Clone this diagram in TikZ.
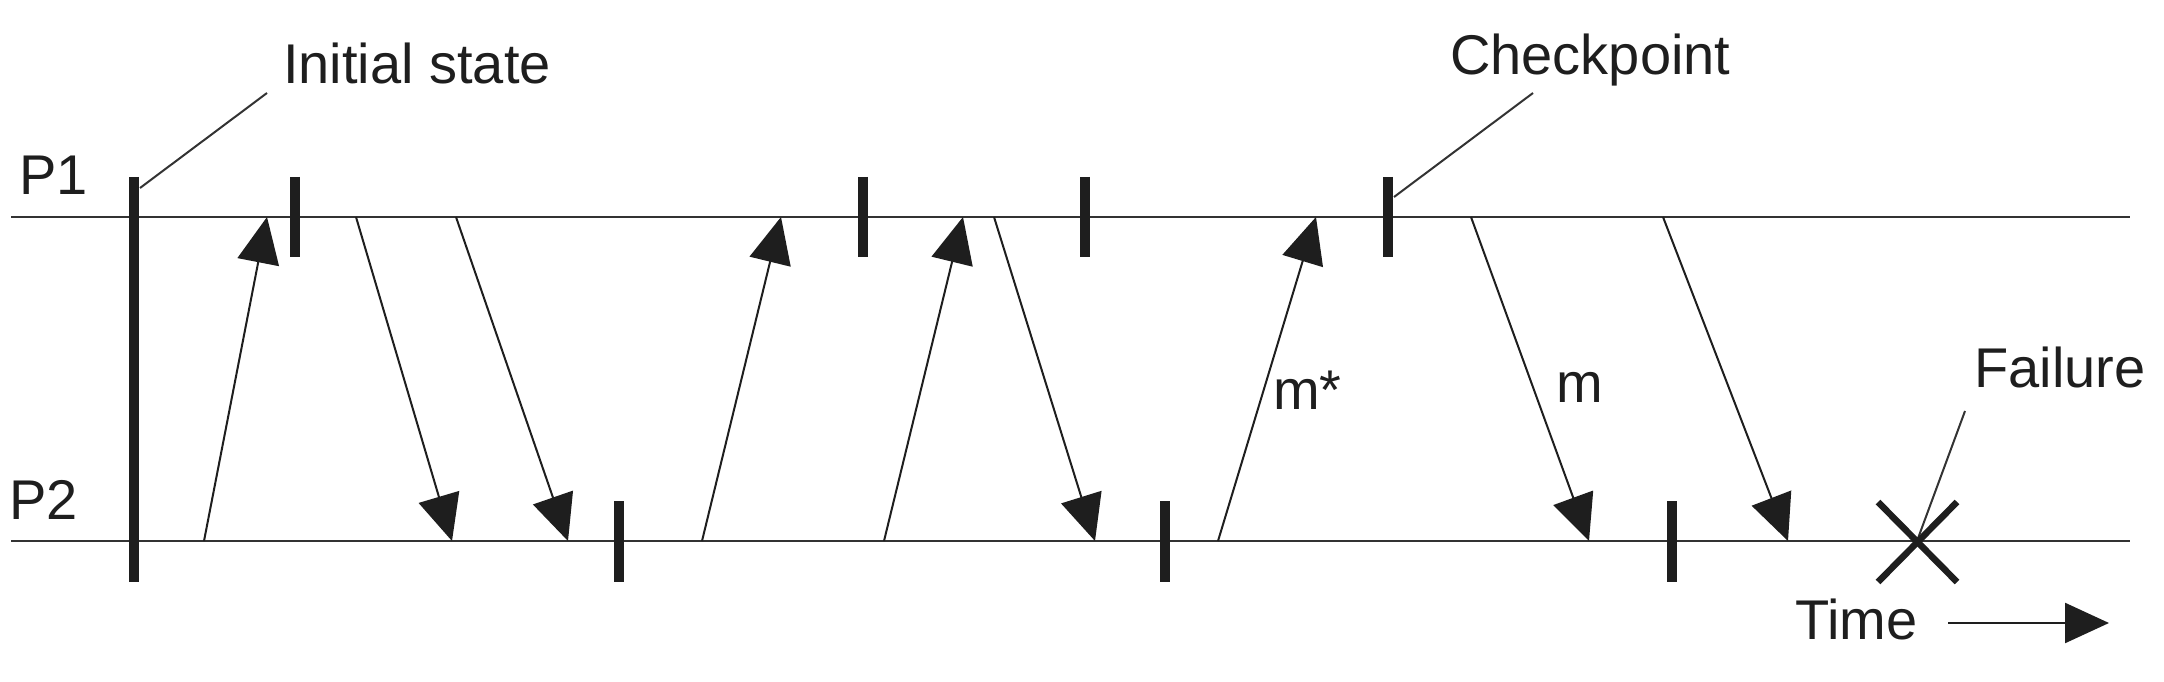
\documentclass[tikz,border=0pt]{standalone}
\usepackage{fontspec}
\setmainfont{Liberation Sans}
\usetikzlibrary{arrows.meta}
\definecolor{ink}{HTML}{1E1E1E}
\definecolor{thin}{HTML}{333333}
\begin{document}
\begin{tikzpicture}[x=1pt,y=-1pt,
  procline/.style={draw=thin,line width=2.2pt},
  msg/.style={draw=thin,line width=2pt,-{Triangle[length=46pt,width=42pt]},color=ink},
  ckbar/.style={draw=ink,line width=10pt},
  leader/.style={draw=thin,line width=2pt},
  lbl/.style={inner sep=0pt,anchor=base west,text=ink,font=\fontsize{56}{60}\selectfont}
]
\useasboundingbox (0,0) rectangle (2164,682);
% process lines
\coordinate (p1a) at (11,217);
\coordinate (p1b) at (2130,217);
\coordinate (p2a) at (11,541);
\coordinate (p2b) at (2130,541);
\draw[procline] (p1a) -- (p1b);
\draw[procline] (p2a) -- (p2b);
% labels
\node[lbl] (P1) at (19,194) {P1};
\node[lbl] (P2) at (9,519) {P2};
\node[lbl] (init) at (283,84) {Initial state};
\node[lbl] (ckp) at (1450,75) {Checkpoint};
\node[lbl] (fail) at (1974,387) {Failure};
\node[lbl] (time) at (1795,639) {Time};
\node[lbl] (mstar) at (1273,409) {m*};
\node[lbl] (mlbl) at (1556,402) {m};
% initial state bar
\coordinate (i0) at (133.5,177);
\coordinate (i1) at (133.5,582);
\draw[ckbar] (i0) -- (i1);
% checkpoints on P1
\foreach \x [count=\i] in {295,863,1085,1388}{
  \coordinate (c1t\i) at (\x,177);
  \coordinate (c1b\i) at (\x,257);
  \draw[ckbar] (c1t\i) -- (c1b\i);
}
% checkpoints on P2
\foreach \x [count=\i] in {619,1165,1672}{
  \coordinate (c2t\i) at (\x,501);
  \coordinate (c2b\i) at (\x,582);
  \draw[ckbar] (c2t\i) -- (c2b\i);
}
% leaders
\coordinate (li0) at (140,188);
\coordinate (li1) at (267,93);
\draw[leader] (li0) -- (li1);
\coordinate (lc0) at (1394,197);
\coordinate (lc1) at (1533,93);
\draw[leader] (lc0) -- (lc1);
\coordinate (lf0) at (1965,411);
\coordinate (lf1) at (1917,541);
\draw[leader] (lf0) -- (lf1);
% messages
\coordinate (m1s) at (204,541);  \coordinate (m1e) at (267,217);
\coordinate (m2s) at (356,217);  \coordinate (m2e) at (452,541);
\coordinate (m3s) at (456,217);  \coordinate (m3e) at (568,541);
\coordinate (m4s) at (702,541);  \coordinate (m4e) at (781,217);
\coordinate (m5s) at (884,541);  \coordinate (m5e) at (963,217);
\coordinate (m6s) at (994,217);  \coordinate (m6e) at (1095,541);
\coordinate (m7s) at (1218,541); \coordinate (m7e) at (1316,217);
\coordinate (m8s) at (1471,217); \coordinate (m8e) at (1589,541);
\coordinate (m9s) at (1663,217); \coordinate (m9e) at (1788,541);
\foreach \k in {1,...,9}{
  \draw[msg] (m\k s) -- (m\k e);
}
% failure cross
\coordinate (x1) at (1878,502); \coordinate (x2) at (1957,582);
\coordinate (x3) at (1878,582); \coordinate (x4) at (1957,502);
\draw[draw=ink,line width=6.5pt] (x1) -- (x2);
\draw[draw=ink,line width=6.5pt] (x3) -- (x4);
% time arrow
\coordinate (t0) at (1948,623);
\coordinate (t1) at (2109,623);
\draw[msg,line width=2.4pt,-{Triangle[length=44pt,width=40pt]}] (t0) -- (t1);
\end{tikzpicture}
\end{document}
